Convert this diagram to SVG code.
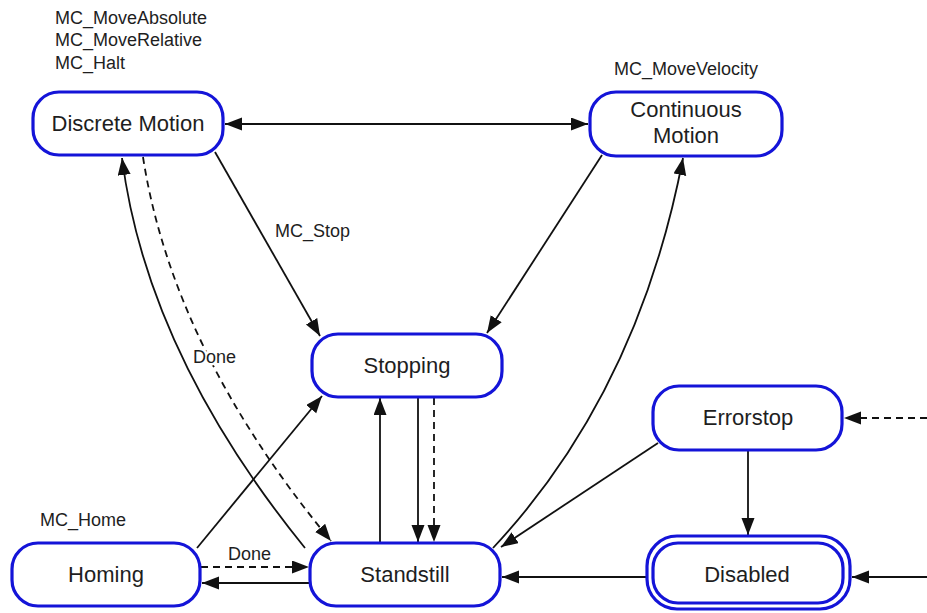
<svg xmlns="http://www.w3.org/2000/svg" width="927" height="613" viewBox="0 0 927 613">
<defs>
<style>
.node rect{fill:#fff;stroke:#1414d8;stroke-width:3.2}
.nt{font-family:"Liberation Sans",Arial,sans-serif;font-size:22px;fill:#1e1e1e;text-anchor:middle}
.lb{font-family:"Liberation Sans",Arial,sans-serif;font-size:18px;fill:#1e1e1e}
.c{fill:none;stroke:#111;stroke-width:1.8}
.d{stroke-dasharray:7 5}
.halo{stroke:#fff;stroke-width:5;paint-order:stroke}
</style>
<marker id="ah" markerUnits="userSpaceOnUse" markerWidth="18" markerHeight="14" refX="17" refY="6.5" orient="auto-start-reverse">
<path d="M0,0 L17,6.5 L0,13 z" fill="#111"/>
</marker>
</defs>
<rect width="927" height="613" fill="#fff"/>

<g id="connectors">
<line class="c" x1="225" y1="124" x2="588" y2="124" marker-start="url(#ah)" marker-end="url(#ah)"/>
<line class="c" x1="215" y1="152" x2="320" y2="336" marker-end="url(#ah)"/>
<line class="c" x1="602" y1="155" x2="487" y2="333" marker-end="url(#ah)"/>
<path class="c" d="M493,548 Q638,393 683,158" marker-end="url(#ah)"/>
<line class="c" x1="658" y1="443" x2="501" y2="547" marker-end="url(#ah)"/>
<line class="c" x1="748" y1="450" x2="748" y2="535" marker-end="url(#ah)"/>
<line class="c d" x1="927" y1="418" x2="844" y2="418" marker-end="url(#ah)"/>
<line class="c" x1="927" y1="577" x2="852" y2="577" marker-end="url(#ah)"/>
<line class="c" x1="646" y1="577" x2="502" y2="577" marker-end="url(#ah)"/>
<line class="c" x1="418" y1="398" x2="418" y2="542" marker-end="url(#ah)"/>
<line class="c d" x1="434" y1="398" x2="434" y2="542" marker-end="url(#ah)"/>
<line class="c" x1="380" y1="542" x2="380" y2="398" marker-end="url(#ah)"/>
<line class="c" x1="197" y1="548" x2="322" y2="396" marker-end="url(#ah)"/>
<line class="c d" x1="201" y1="567" x2="309" y2="567" marker-end="url(#ah)"/>
<line class="c" x1="309" y1="583" x2="202" y2="583" marker-end="url(#ah)"/>
<path class="c" d="M305,548 Q147,353 122,158" marker-end="url(#ah)"/>
<path class="c d" d="M143,157 Q173,350 331,541" marker-end="url(#ah)"/>
<text class="lb" x="275" y="237">MC_Stop</text>
<text class="lb halo" x="193" y="363">Done</text>
<text class="lb" x="228" y="560">Done</text>
</g>

<g id="discrete-motion" class="node">
<rect x="33" y="92" width="190" height="63" rx="26"/>
<text class="nt" x="128" y="131">Discrete Motion</text>
<text class="lb" x="55" y="24">MC_MoveAbsolute</text>
<text class="lb" x="55" y="46">MC_MoveRelative</text>
<text class="lb" x="55" y="69">MC_Halt</text>
</g>

<g id="continuous-motion" class="node">
<rect x="590" y="92" width="192" height="64" rx="26"/>
<text class="nt" x="686" y="117">Continuous</text>
<text class="nt" x="686" y="143">Motion</text>
<text class="lb" x="614" y="75">MC_MoveVelocity</text>
</g>

<g id="stopping" class="node">
<rect x="312" y="334" width="190" height="63" rx="26"/>
<text class="nt" x="407" y="373">Stopping</text>
</g>

<g id="standstill" class="node">
<rect x="310" y="543" width="190" height="63" rx="26"/>
<text class="nt" x="405" y="582">Standstill</text>
</g>

<g id="homing" class="node">
<rect x="12" y="543" width="188" height="63" rx="26"/>
<text class="nt" x="106" y="582">Homing</text>
<text class="lb" x="40" y="526">MC_Home</text>
</g>

<g id="errorstop" class="node">
<rect x="653" y="386" width="189" height="64" rx="26"/>
<text class="nt" x="748" y="425">Errorstop</text>
</g>

<g id="disabled" class="node">
<rect x="647" y="536" width="203" height="73" rx="30"/>
<rect x="653" y="543" width="190" height="60" rx="25"/>
<text class="nt" x="747" y="582">Disabled</text>
</g>
</svg>
